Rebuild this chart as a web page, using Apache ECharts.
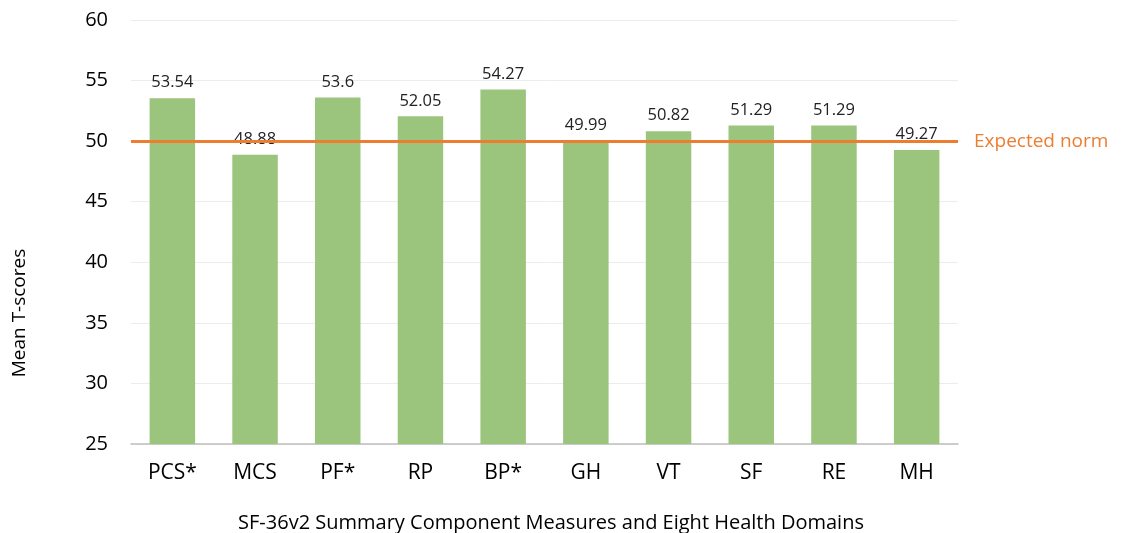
<!DOCTYPE html>
<html>
	<head>
		<meta charset="utf-8" />
		<title>SF-36v2 Mean T-scores</title>
		<script src="https://cdn.jsdelivr.net/npm/echarts@6/dist/echarts.min.js"></script>
		<style>
			* {
				margin: 0;
				padding: 0;
				box-sizing: border-box;
			}
		</style>
	</head>
	<body>
		<div id="main" style="width: 1127px; height: 533px"></div>
		<script>
			// 数据
			var domains = ['PCS*', 'MCS', 'PF*', 'RP', 'BP*', 'GH', 'VT', 'SF', 'RE', 'MH'];
			var meanScores = [53.54, 48.88, 53.6, 52.05, 54.27, 49.99, 50.82, 51.29, 51.29, 49.27];
			var expectedNorm = 50;

			var font = 'Open Sans';
			var myChart = echarts.init(document.getElementById('main'));
			var option = {
				animation: false,
				textStyle: {fontFamily: font},
				title: [
					{
						text: 'SF-36v2 Summary Component Measures and Eight Health Domains',
						left: 546,
						textAlign: 'center',
						top: 508,
						textStyle: {fontSize: 20, fontWeight: 'normal', color: '#000', fontFamily: font},
					},
				],
				graphic: [
					{
						type: 'text',
						x: 20,
						y: 313,
						rotation: Math.PI / 2,
						style: {
							text: 'Mean T-scores',
							font: '19px "Open Sans"',
							fill: '#000',
							align: 'center',
							verticalAlign: 'middle',
						},
					},
				],
				grid: {
					left: 131,
					right: 169,
					top: 20,
					bottom: 89,
				},
				xAxis: {
					type: 'category',
					data: domains,
					axisTick: {show: false},
					axisLine: {lineStyle: {color: '#bfbfbf', width: 1.5}},
					axisLabel: {fontSize: 21, color: '#000', margin: 19},
				},
				yAxis: {
					type: 'value',
					min: 25,
					max: 60,
					interval: 5,
					axisLine: {show: false},
					axisTick: {show: false},
					splitLine: {lineStyle: {color: '#ececec'}},
					axisLabel: {fontSize: 20, color: '#000', margin: 23},
				},
				series: [
					{
						name: 'Mean T-score',
						type: 'bar',
						data: meanScores,
						barWidth: '55%',
						itemStyle: {color: '#9bc47d'},
						label: {
							show: true,
							position: 'top',
							distance: 7,
							fontSize: 16.5,
							color: '#222',
						},
						markLine: {
							silent: true,
							symbol: 'none',
							lineStyle: {color: '#ed7d31', width: 3, type: 'solid'},
							label: {
								position: 'end',
								formatter: 'Expected norm',
								fontSize: 19,
								color: '#ed7d31',
								distance: 16,
							},
							data: [{yAxis: expectedNorm}],
						},
					},
				],
			};
			option && myChart.setOption(option);
		</script>
	</body>
</html>
